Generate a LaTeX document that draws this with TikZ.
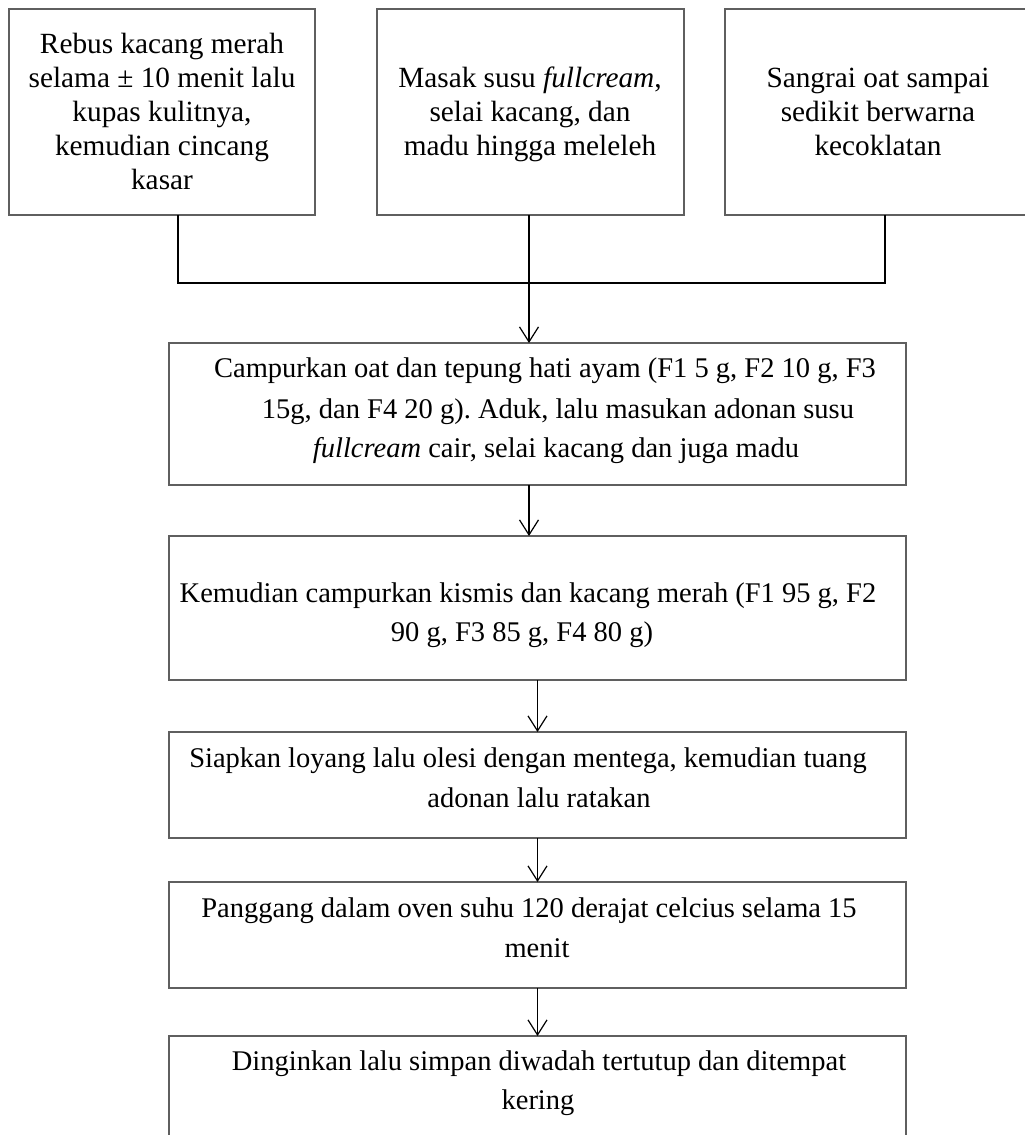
\documentclass[tikz,border=0pt]{standalone}
\usepackage{fontspec}
\setmainfont{Liberation Serif}
\usetikzlibrary{arrows.meta}
\definecolor{boxgray}{RGB}{95,95,95}
\frenchspacing
\begin{document}
\begin{tikzpicture}[x=1pt,y=-1pt,
  box/.style={draw=boxgray, line width=1.2pt, inner sep=0pt, outer sep=0pt, rectangle},
  conn/.style={draw=black, line width=1.5pt},
  arr/.style={draw=black, line width=1.4pt, -{Straight Barb[length=15pt,width=19pt,line width=1.2pt]}},
  txt/.style={inner sep=0pt, anchor=base, font=\fontsize{29.3}{34}\selectfont\frenchspacing},
  ltxt/.style={inner sep=0pt, anchor=base, font=\fontsize{28.5}{34}\selectfont\frenchspacing}
]
\useasboundingbox (0,0) rectangle (1025,1135);
\fill[white] (0,0) rectangle (1025,1135);

% boxes
\node[box, minimum width=306pt, minimum height=206pt] (b1) at (162,112) {};
\node[box, minimum width=307pt, minimum height=206pt] (b2) at (530.5,112) {};
\node[box, minimum width=320pt, minimum height=206pt] (b3) at (885,112) {};
\node[box, minimum width=737pt, minimum height=142pt] (b4) at (537.5,414) {};
\node[box, minimum width=737pt, minimum height=144pt] (b5) at (537.5,608) {};
\node[box, minimum width=737pt, minimum height=106pt] (b6) at (537.5,785) {};
\node[box, minimum width=737pt, minimum height=106pt] (b7) at (537.5,935) {};
\node[box, minimum width=737pt, minimum height=124pt] (b8) at (537.5,1098) {};

% texts box 1
\node[txt] (t1a) at (162,53) {Rebus kacang merah};
\node[txt] (t1b) at (162,87) {selama ± 10 menit lalu};
\node[txt] (t1c) at (162,121) {kupas kulitnya,};
\node[txt] (t1d) at (162,155) {kemudian cincang};
\node[txt] (t1e) at (162,189) {kasar};
% box 2
\node[txt] (t2a) at (530,87) {Masak susu \textit{fullcream},};
\node[txt] (t2b) at (530,121) {selai kacang, dan};
\node[txt] (t2c) at (530,155) {madu hingga meleleh};
% box 3
\node[txt] (t3a) at (878,87) {Sangrai oat sampai};
\node[txt] (t3b) at (878,121) {sedikit berwarna};
\node[txt] (t3c) at (878,155) {kecoklatan};
% box 4
\node[ltxt] (t4a) at (545,377) {Campurkan oat dan tepung hati ayam (F1 5 g, F2 10 g, F3};
\node[ltxt] (t4b) at (558,418) {15g, dan F4 20 g). Aduk, lalu masukan adonan susu};
\node[ltxt] (t4c) at (556,457) {\textit{fullcream} cair, selai kacang dan juga madu};
% box 5
\node[ltxt] (t5a) at (528,602) {Kemudian campurkan kismis dan kacang merah (F1 95 g, F2};
\node[ltxt] (t5b) at (522,641) {90 g, F3 85 g, F4 80 g)};
% box 6
\node[ltxt] (t6a) at (528,767) {Siapkan loyang lalu olesi dengan mentega, kemudian tuang};
\node[ltxt] (t6b) at (539,807) {adonan lalu ratakan};
% box 7
\node[ltxt] (t7a) at (529,917) {Panggang dalam oven suhu 120 derajat celcius selama 15};
\node[ltxt] (t7b) at (537,957) {menit};
% box 8
\node[ltxt] (t8a) at (539,1070) {Dinginkan lalu simpan diwadah tertutup dan ditempat};
\node[ltxt] (t8b) at (538,1109) {kering};

% connectors
\coordinate (j1) at (178,283);
\coordinate (j2) at (529,283);
\coordinate (j3) at (885,283);
\draw[conn] (b1.south -| j1) -- (j1) -- (j3) -- (b3.south -| j3);
\draw[conn] (b2.south -| j2) -- (j2);
\draw[arr] (j2) -- (b4.north -| j2);
\draw[arr] (b4.south -| j2) -- (b5.north -| j2);
\draw[arr] (b5) -- (b6);
\draw[arr] (b6) -- (b7);
\draw[arr] (b7) -- (b8);
\end{tikzpicture}
\end{document}
